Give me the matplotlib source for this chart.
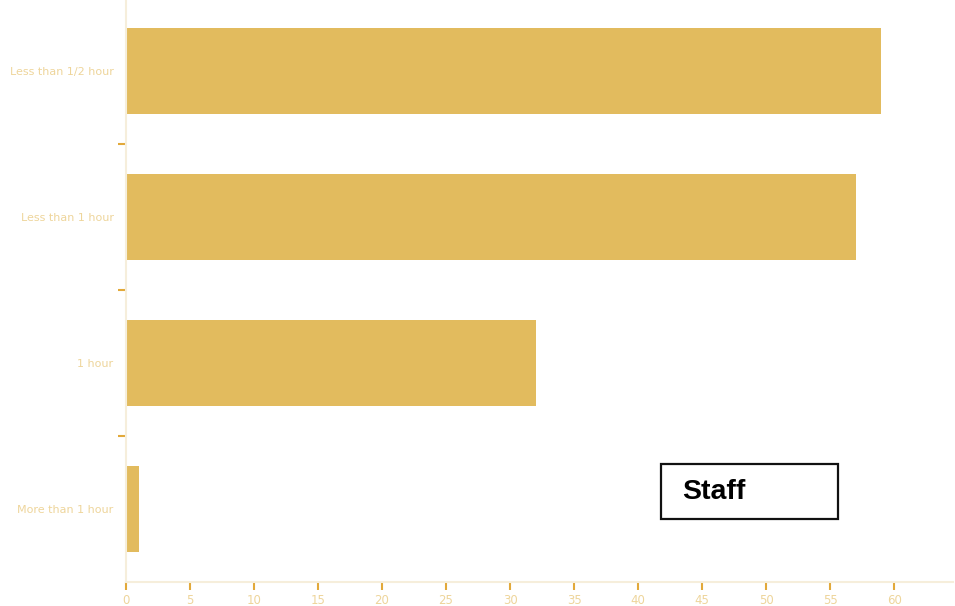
import matplotlib.pyplot as plt
from matplotlib.patches import Rectangle

categories = ['Less than 1/2 hour', 'Less than 1 hour', '1 hour', 'More than 1 hour']
counts = [59, 57, 32, 1]
x_ticks = [0, 5, 10, 15, 20, 25, 30, 35, 40, 45, 50, 55, 60]

bar_color = '#e2bb5e'
label_color = '#eed59b'
tick_color = '#e2a93a'
spine_color = '#f6eedb'

W, H = 955, 606
fig = plt.figure(figsize=(W / 100, H / 100), dpi=100)
ax = fig.add_axes([126 / W, 1 - 582 / H, (953 - 126) / W, 584 / H])

pos = list(range(len(categories)))
ax.barh(pos, counts, height=0.595, color=bar_color, edgecolor='none')

ax.set_ylim(3.5, -0.5)
ax.set_xlim(0, 64.6)

ax.set_yticks(pos)
ax.set_yticklabels(categories)
ax.set_yticks([0.5, 1.5, 2.5], minor=True)
ax.tick_params(axis='y', which='major', length=0, pad=9,
               labelsize=8, labelcolor=label_color)
ax.tick_params(axis='y', which='minor', length=6, width=1.5, color=tick_color)

ax.set_xticks(x_ticks)
ax.tick_params(axis='x', length=6, width=1.5, color=tick_color, pad=3,
               labelsize=8.5, labelcolor=label_color)

for side in ['top', 'right']:
    ax.spines[side].set_visible(False)
for side in ['left', 'bottom']:
    ax.spines[side].set_color(spine_color)
    ax.spines[side].set_linewidth(1.5)

# "Staff" label box
fig.patches.append(Rectangle((661 / W, 1 - 519 / H), (838 - 661) / W, 55 / H,
                             transform=fig.transFigure, fill=False,
                             edgecolor='#111111', linewidth=1.6))
fig.text(682 / W, 1 - 492 / H, 'Staff', fontsize=20.5, fontweight='bold',
         family='Liberation Sans', va='center', ha='left', color='black')

fig.savefig('out.png', dpi=100)
